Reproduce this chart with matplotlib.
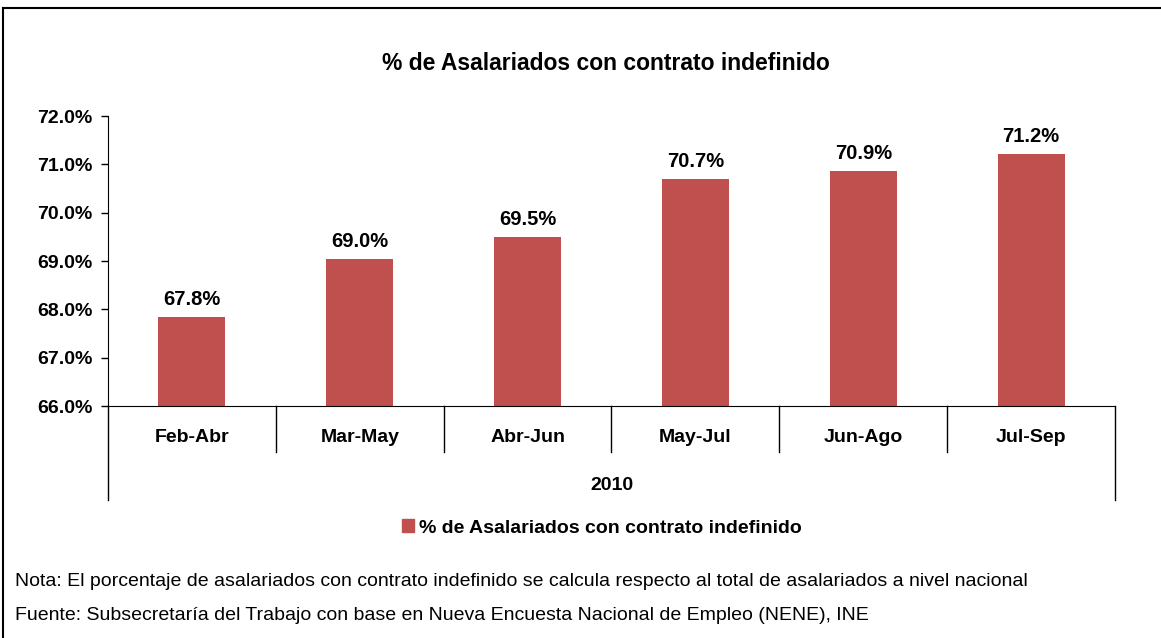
import matplotlib
matplotlib.use("Agg")
import matplotlib.pyplot as plt
from matplotlib.lines import Line2D
from matplotlib.patches import Patch

plt.rcParams['font.family'] = ['Liberation Sans', 'DejaVu Sans']

periodos = ['Feb-Abr', 'Mar-May', 'Abr-Jun', 'May-Jul', 'Jun-Ago', 'Jul-Sep']
valores = [67.84, 69.04, 69.5, 70.7, 70.86, 71.21]
etiquetas = ['67.8%', '69.0%', '69.5%', '70.7%', '70.9%', '71.2%']
y_ticks = [66, 67, 68, 69, 70, 71, 72]
anio = '2010'
serie = '% de Asalariados con contrato indefinido'
nota = ('Nota: El porcentaje de asalariados con contrato indefinido se calcula '
        'respecto al total de asalariados a nivel nacional')
fuente = ('Fuente: Subsecretaría del Trabajo con base en Nueva Encuesta Nacional '
          'de Empleo (NENE), INE')

color_barra = '#C0504D'

fig = plt.figure(figsize=(11.61, 6.38), dpi=100)
ax = fig.add_axes([108/1161, 1 - 406/638, (1115-108)/1161, 290/638])

x = list(range(len(periodos)))
bars = ax.bar(x, valores, width=0.4, color=color_barra, bottom=0)
ax.set_ylim(66, 72)
ax.set_xlim(-0.5, len(periodos) - 0.5)

ax.set_yticks(y_ticks)
ax.set_yticklabels(['%.1f%%' % v for v in y_ticks], fontsize=14, fontweight='bold')
ax.tick_params(axis='y', direction='out', length=5, width=1, pad=6)
ax.tick_params(axis='x', length=0)
ax.set_xticks([])

for s in ['top', 'right']:
    ax.spines[s].set_visible(False)
ax.spines['left'].set_bounds(66, 72)

# data labels
for xi, v, lab in zip(x, valores, etiquetas):
    ax.annotate(lab, (xi, v), xytext=(0, 6), textcoords='offset points',
                ha='center', va='bottom', fontsize=14.5, fontweight='bold')

# category axis with separators
tr = ax.get_xaxis_transform()
for i in range(1, len(periodos)):
    ax.add_line(Line2D([i - 0.5, i - 0.5], [0, -0.159], transform=tr,
                       color='black', lw=1, clip_on=False))
for xe in [-0.5, len(periodos) - 0.5]:
    ax.add_line(Line2D([xe, xe], [0, -0.324], transform=tr,
                       color='black', lw=1, clip_on=False))
for xi, p in zip(x, periodos):
    ax.text(xi, -0.11, p, transform=tr, ha='center', va='center',
            fontsize=14, fontweight='bold')
ax.text((len(periodos) - 1) / 2, -0.275, anio, transform=tr, ha='center',
        va='center', fontsize=14, fontweight='bold')

fig.text(606/1161, 1 - 64/638, serie, ha='center', va='center', fontsize=16.5,
         fontweight='bold')

leg = fig.legend([Patch(color=color_barra)], [serie], loc='center',
                 bbox_to_anchor=(602/1161, 1 - 528/638), frameon=False,
                 prop={'size': 14, 'weight': 'bold'}, handlelength=0.6,
                 handleheight=0.6, handletextpad=0.3)

fig.text(15/1161, 1 - 582/638, nota, ha='left', va='center', fontsize=14)
fig.text(15/1161, 1 - 615/638, fuente, ha='left', va='center', fontsize=14)

# outer frame (top and left)
fig.add_artist(Line2D([3/1161, 1], [1 - 8/638, 1 - 8/638],
                      transform=fig.transFigure, color='black', lw=1.5))
fig.add_artist(Line2D([3/1161, 3/1161], [0, 1 - 8/638],
                      transform=fig.transFigure, color='black', lw=1.5))

fig.savefig('out.png', dpi=100)
